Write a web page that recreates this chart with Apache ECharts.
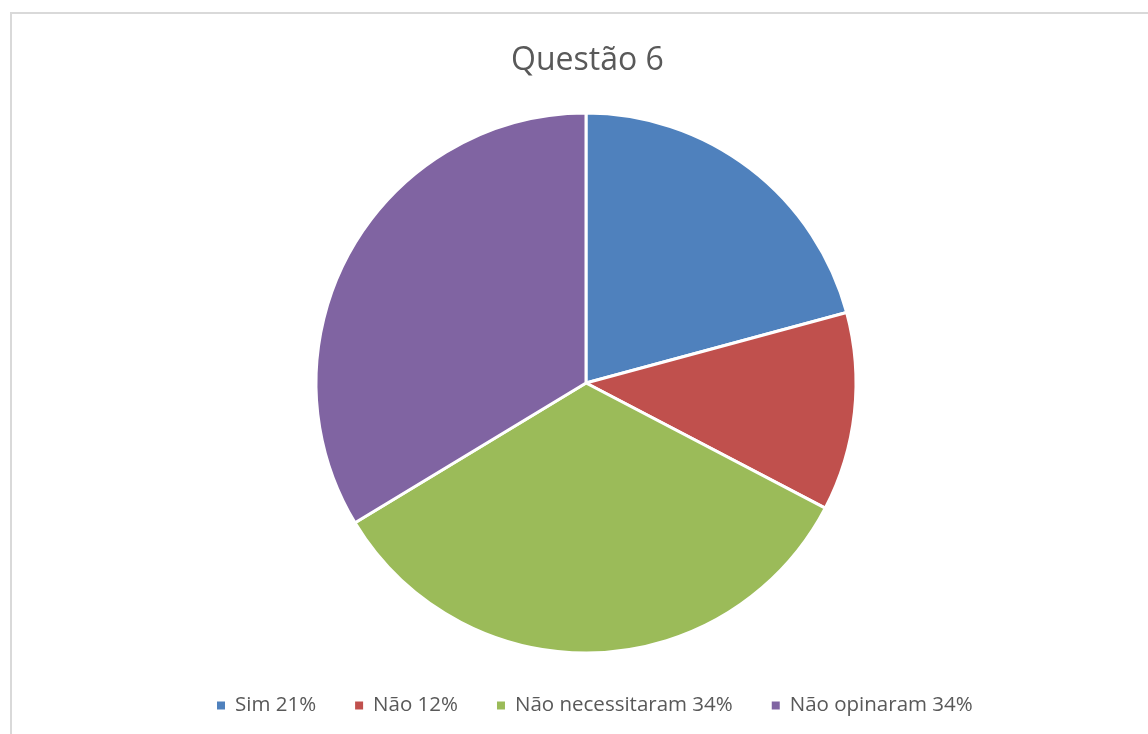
<!DOCTYPE html>
<html><head><meta charset="utf-8">
<script src="https://cdn.jsdelivr.net/npm/echarts@6/dist/echarts.min.js"></script>
<style>
html,body{margin:0;padding:0;background:#fff;}
#frame{position:absolute;left:10px;top:12px;width:1200px;height:800px;border:2px solid #d9d9d9;box-sizing:border-box;}
#c{position:absolute;left:0;top:0;width:1148px;height:734px;}
</style></head>
<body>
<div id="frame"></div>
<div id="c"></div>
<script>
const categories = ['Sim 21%', 'Não 12%', 'Não necessitaram 34%', 'Não opinaram 34%'];
const values = [21, 12, 34, 34];
const colors = ['#4f81bd', '#c0504d', '#9bbb59', '#8064a2'];

const chart = echarts.init(document.getElementById('c'), null, {renderer: 'canvas'});
chart.setOption({
  animation: false,
  color: colors,
  title: {
    text: 'Questão 6', left: 506, top: 40,
    textStyle: {fontFamily: 'Open Sans', fontSize: 32, fontWeight: 'normal', color: '#595959'}
  },
  legend: {
    bottom: 13, left: 210, icon: 'rect', itemWidth: 10, itemHeight: 10, itemGap: 37,
    textStyle: {fontFamily: 'Open Sans', fontSize: 20.5, color: '#595959', padding: [0, 0, 0, 4]},
    data: categories
  },
  series: [{
    type: 'pie', center: [586, 383], radius: 270, startAngle: 90, clockwise: true,
    label: {show: false}, labelLine: {show: false},
    itemStyle: {borderColor: '#fff', borderWidth: 3},
    emphasis: {disabled: true},
    data: categories.map((n, i) => ({name: n, value: values[i]}))
  }]
});
</script>
</body></html>
